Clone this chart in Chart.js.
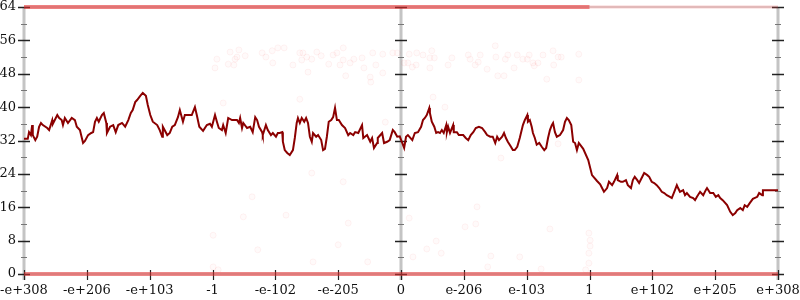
<!DOCTYPE html>
<html><head><meta charset="utf-8">
<script src="https://cdn.jsdelivr.net/npm/chart.js@4/dist/chart.umd.min.js"></script>
<style>html,body{margin:0;padding:0;background:#fff}</style>
</head><body>
<canvas id="c" width="800" height="300"></canvas>
<script>
// ---- tick labels / axis layout values ----
const xTickLabels = ['-e+308','-e+206','-e+103','-1','-e-102','-e-205','0','e-206','e-103','1','e+102','e+205','e+308'];
const xMin = -6, xMax = 6;
const yMin = 0, yMax = 64, yStep = 8, yMinorStep = 4;
const verticalAxes = [-6, 0, 6];

// ---- main series (x in tick units, y = count) ----
const lineX = [-6.00,-5.94,-5.92,-5.89,-5.87,-5.86,-5.82,-5.79,-5.76,-5.73,-5.70,-5.63,-5.60,-5.55,-5.54,-5.51,-5.47,-5.44,-5.40,-5.38,-5.35,-5.30,-5.24,-5.19,-5.16,-5.11,-5.06,-5.03,-4.98,-4.93,-4.90,-4.87,-4.84,-4.81,-4.76,-4.73,-4.69,-4.68,-4.63,-4.58,-4.54,-4.50,-4.44,-4.39,-4.34,-4.30,-4.27,-4.23,-4.20,-4.15,-4.11,-4.06,-4.03,-3.99,-3.95,-3.88,-3.84,-3.80,-3.79,-3.72,-3.68,-3.64,-3.60,-3.55,-3.52,-3.47,-3.44,-3.39,-3.33,-3.28,-3.25,-3.21,-3.15,-3.09,-3.04,-3.01,-2.96,-2.93,-2.90,-2.85,-2.83,-2.79,-2.75,-2.69,-2.61,-2.58,-2.56,-2.53,-2.51,-2.45,-2.40,-2.36,-2.32,-2.29,-2.26,-2.21,-2.20,-2.15,-2.12,-2.07,-2.04,-1.99,-1.96,-1.93,-1.89,-1.88,-1.85,-1.81,-1.77,-1.72,-1.69,-1.66,-1.64,-1.61,-1.58,-1.54,-1.51,-1.48,-1.45,-1.42,-1.40,-1.35,-1.32,-1.27,-1.24,-1.21,-1.18,-1.15,-1.11,-1.08,-1.05,-1.02,-0.99,-0.94,-0.89,-0.84,-0.81,-0.76,-0.73,-0.68,-0.62,-0.60,-0.54,-0.49,-0.46,-0.43,-0.38,-0.37,-0.30,-0.27,-0.22,-0.18,-0.13,-0.10,-0.06,-0.02,0.02,0.05,0.08,0.11,0.18,0.22,0.27,0.32,0.35,0.38,0.41,0.45,0.46,0.49,0.53,0.56,0.59,0.62,0.65,0.68,0.72,0.73,0.75,0.78,0.83,0.84,0.89,0.92,0.99,1.03,1.07,1.11,1.15,1.19,1.24,1.29,1.34,1.37,1.42,1.46,1.50,1.53,1.56,1.61,1.64,1.67,1.70,1.75,1.78,1.81,1.85,1.89,1.94,1.97,2.01,2.02,2.05,2.08,2.10,2.13,2.16,2.20,2.24,2.28,2.31,2.34,2.37,2.40,2.42,2.45,2.48,2.53,2.58,2.61,2.64,2.67,2.71,2.74,2.77,2.80,2.83,2.90,2.98,3.04,3.12,3.17,3.20,3.23,3.28,3.31,3.36,3.39,3.44,3.45,3.50,3.53,3.58,3.61,3.66,3.69,3.72,3.76,3.79,3.84,3.87,3.92,3.95,3.99,4.03,4.07,4.11,4.15,4.19,4.23,4.28,4.31,4.36,4.39,4.41,4.44,4.49,4.52,4.55,4.60,4.65,4.68,4.71,4.76,4.81,4.85,4.87,4.92,4.97,5.01,5.05,5.08,5.12,5.19,5.24,5.28,5.32,5.35,5.40,5.44,5.47,5.51,5.55,5.60,5.67,5.70,5.75,5.76,6.00];
const lineY = [32.4,32.4,34.0,33.3,35.7,33.3,32.1,32.9,35.3,36.2,35.7,35.0,34.5,36.9,36.0,36.9,38.1,37.4,36.9,35.7,37.4,36.2,37.4,36.9,35.3,34.5,31.4,31.9,33.3,33.8,34.0,36.5,37.4,36.5,38.1,38.6,36.2,33.8,35.3,35.7,34.0,35.7,36.2,35.3,36.9,38.6,39.3,41.2,41.7,42.7,43.4,42.7,40.5,38.1,36.5,35.7,34.5,32.9,35.3,33.3,33.8,35.3,35.7,37.6,39.3,36.5,38.1,38.1,38.1,40.0,38.1,35.3,34.3,35.7,36.0,35.3,38.1,36.5,35.0,34.5,35.7,33.8,37.4,36.9,36.9,36.2,37.4,35.0,36.2,35.0,35.3,34.0,37.6,36.9,35.3,34.0,33.3,35.7,34.5,33.3,33.8,32.9,33.8,33.8,34.0,31.7,29.7,29.0,28.5,29.7,32.6,36.2,37.4,36.2,37.4,36.5,37.4,36.2,32.9,31.7,33.8,32.9,33.3,32.1,29.7,30.0,32.9,36.5,36.9,37.6,39.8,36.9,36.9,35.7,35.0,33.3,33.8,33.3,34.0,33.8,35.7,32.6,33.3,31.7,32.6,30.2,31.4,32.6,33.8,31.4,31.7,32.1,34.5,34.0,32.9,33.0,31.4,30.2,32.9,33.3,32.1,33.8,34.0,35.3,36.9,37.4,38.1,39.8,38.6,36.5,35.3,33.8,34.0,33.8,34.5,33.8,35.7,34.0,35.3,33.8,35.7,34.0,34.0,33.3,33.3,32.6,32.1,33.3,34.0,35.0,35.3,35.0,34.0,33.3,32.9,32.9,31.4,32.9,32.1,32.9,33.8,32.6,31.7,30.5,29.7,29.7,30.5,32.6,35.7,36.9,38.1,36.5,36.9,35.3,33.8,32.6,31.0,31.4,30.5,29.7,30.2,32.6,34.5,35.7,36.2,34.0,32.9,33.3,34.5,36.5,37.4,36.9,35.7,31.7,31.4,29.7,31.4,30.0,27.3,23.7,22.3,21.5,20.6,19.7,20.6,22.1,21.3,22.1,23.7,22.5,22.1,22.1,22.5,21.3,20.6,22.5,23.3,22.5,21.8,23.3,24.2,23.7,23.3,22.1,21.8,21.3,20.6,19.7,19.4,18.9,18.5,18.2,20.1,21.3,20.6,19.7,20.1,18.9,19.4,18.5,18.2,17.7,18.5,19.7,18.9,20.1,20.6,19.4,19.4,18.5,18.9,18.2,17.7,16.5,14.9,14.1,14.6,15.3,15.8,15.3,16.5,16.1,17.0,18.0,18.5,19.4,18.9,20.1,20.1];

// ---- faint background samples ----
const dotX = [-2.96,-2.93,-2.72,-2.58,-2.64,-2.75,-2.66,-2.61,-2.48,-2.21,-2.05,-1.96,-1.86,-2.15,-2.04,-1.72,-1.61,-1.56,-1.58,-1.50,-1.42,-1.34,-1.27,-1.48,-1.15,-1.08,-1.02,-0.92,-0.92,-0.97,-0.88,-0.81,-0.75,-0.62,-0.59,-0.49,-0.48,-0.45,-0.40,-0.29,-0.29,-0.13,-1.61,-0.06,0.13,0.25,0.35,0.49,0.46,0.53,0.05,0.11,0.18,0.24,0.46,0.75,0.81,1.07,1.10,1.18,1.23,1.26,1.37,1.50,1.51,1.54,1.64,1.70,1.66,1.80,1.85,1.94,2.01,2.04,2.10,2.12,2.18,2.26,2.32,2.42,2.43,2.50,2.55,2.83,2.83,0.51,-2.99,-2.99,-2.91,-2.51,-2.28,-1.83,-1.40,-1.00,-0.84,-0.53,0.13,0.19,0.41,0.56,0.64,1.02,1.19,1.21,1.38,1.43,1.89,2.37,2.23,2.99,3.01,3.01,2.99,2.99,2.94,-2.83,-1.42,-0.92,-2.37,-0.25,0.70,1.59,2.50];
const dotY = [49.4,51.5,53.2,53.7,51.5,50.3,50.1,52.0,52.3,53.0,53.5,54.2,54.2,52.0,50.6,50.1,53.0,53.0,51.3,52.0,51.5,53.2,52.3,48.4,50.3,52.5,53.0,54.2,51.3,50.1,47.5,50.6,51.5,51.8,49.4,47.2,46.0,53.0,50.1,52.7,48.2,53.0,41.9,53.0,52.7,53.0,52.5,53.5,51.8,51.8,50.6,50.6,49.6,50.1,49.4,50.1,51.8,52.5,51.5,50.1,50.8,52.5,49.1,54.7,52.0,47.5,47.5,52.5,51.5,49.4,52.5,51.5,51.5,52.5,50.6,49.9,50.6,52.5,46.7,53.5,50.1,52.0,52.0,52.7,46.5,42.4,9.3,1.7,1.0,13.7,5.8,14.1,2.9,7.0,12.2,2.9,13.4,4.1,6.0,7.9,5.0,11.3,12.0,16.1,1.7,4.3,4.1,10.8,1.2,9.8,8.1,6.7,5.0,2.6,1.0,41.0,24.2,22.1,18.5,36.4,40.0,27.8,31.2];

// ---- saturated bands at the limits ----
const topBandStrongX = [-6, 3];
const topBandFaintX = [3, 6];
const bottomBandX = [-6, 6];

const pts = (xs, ys) => xs.map((x, i) => ({x, y: ys[i]}));
const flat = (xs, v) => xs.map(x => ({x, y: v}));

const axesPlugin = {
  id: 'axesPlugin',
  beforeDatasetsDraw(chart) {
    const {ctx, chartArea: a, scales: {x, y}} = chart;
    const seg = (x1, y1, x2, y2) => { ctx.beginPath(); ctx.moveTo(x1, y1); ctx.lineTo(x2, y2); ctx.stroke(); };
    ctx.save();
    ctx.strokeStyle = '#d4d4d4'; ctx.lineWidth = 1.5;
    [yMin, yMax].forEach(v => { const py = y.getPixelForValue(v); seg(a.left, py, a.right, py); });
    ctx.strokeStyle = '#c4c4c4'; ctx.lineWidth = 3;
    verticalAxes.forEach(v => { const px = x.getPixelForValue(v); seg(px, a.top, px, a.bottom + 6); });
    verticalAxes.forEach(v => {
      const px = x.getPixelForValue(v);
      for (let t = yMin; t <= yMax; t += yMinorStep) {
        const py = Math.round(y.getPixelForValue(t)) + 0.5;
        const major = t % yStep === 0;
        ctx.lineWidth = major ? 1.5 : 1;
        ctx.strokeStyle = major ? '#222' : '#777';
        const len = major ? 6 : 3;
        seg(px - len, py, px + len, py);
      }
    });
    ctx.strokeStyle = '#222'; ctx.lineWidth = 1.2;
    for (let i = xMin; i <= xMax; i++) {
      const px = Math.round(x.getPixelForValue(i)) + 0.5;
      seg(px, a.bottom - 4, px, a.bottom + 6);
    }
    ctx.restore();
  }
};

new Chart(document.getElementById('c'), {
  type: 'line',
  data: {
    datasets: [
      { data: pts(lineX, lineY), borderColor: '#8b0000', borderWidth: 2, pointRadius: 0, tension: 0, fill: false },
      { data: pts(dotX, dotY), showLine: false, pointRadius: 3, pointBackgroundColor: 'rgba(255,90,90,0.03)', pointBorderColor: 'rgba(230,60,60,0.06)', pointBorderWidth: 1, clip: false },
      { data: flat(topBandStrongX, yMax), borderColor: 'rgba(226,45,45,0.6)', borderWidth: 4, pointRadius: 0, clip: false },
      { data: flat(topBandFaintX, yMax), borderColor: 'rgba(235,70,70,0.25)', borderWidth: 3, pointRadius: 0, clip: false },
      { data: flat(bottomBandX, yMin), borderColor: 'rgba(222,50,50,0.58)', borderWidth: 4, pointRadius: 0, clip: false }
    ]
  },
  options: {
    responsive: false, animation: false, devicePixelRatio: 1, events: [],
    layout: { padding: { top: 7, right: 22, left: 0, bottom: 0 } },
    plugins: { legend: { display: false }, tooltip: { enabled: false } },
    scales: {
      x: {
        type: 'linear', min: xMin, max: xMax,
        grid: { display: false, drawTicks: false }, border: { display: false },
        ticks: { stepSize: 1, autoSkip: false, maxRotation: 0, padding: 9, color: '#111',
          font: { family: 'DejaVu Serif', size: 13 },
          callback: v => xTickLabels[Math.round(v) - xMin] },
        afterFit: s => { s.height = 26; s.paddingLeft = 0; s.paddingRight = 0; }
      },
      y: {
        min: yMin, max: yMax,
        grid: { display: false, drawTicks: false }, border: { display: false },
        ticks: { stepSize: yStep, padding: 8, color: '#111', font: { family: 'DejaVu Serif', size: 13 } },
        afterFit: s => { s.width = 24; s.paddingTop = 0; s.paddingBottom = 0; }
      }
    }
  },
  plugins: [axesPlugin]
});
</script>
</body></html>
